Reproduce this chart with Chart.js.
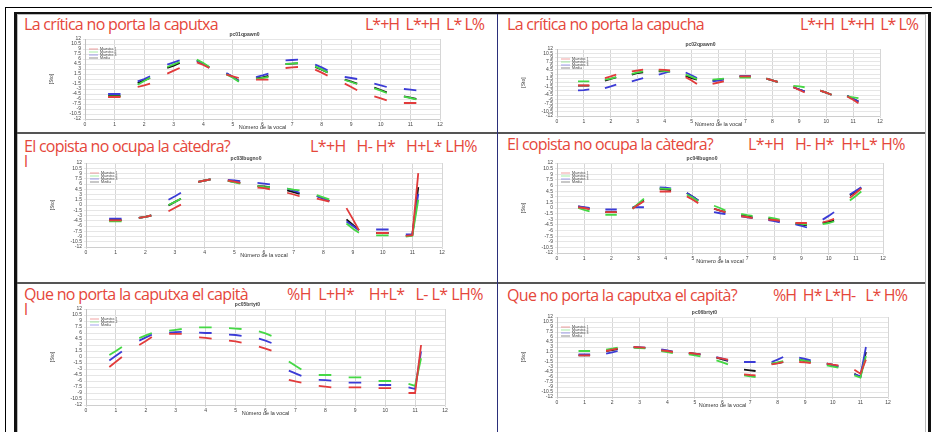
<!DOCTYPE html>
<html>
<head>
<meta charset="utf-8">
<script src="https://cdn.jsdelivr.net/npm/chart.js@4.4.1/dist/chart.umd.min.js"></script>
<style>
  body { margin: 0; width: 932px; height: 432px; position: relative; overflow: hidden; background: #fff; font-family: "Open Sans", "Noto Sans", sans-serif; }
  .ln { position: absolute; }
  .tt { position: absolute; color: #e5473b; font-size: 16px; line-height: 1; white-space: pre; }
  canvas { position: absolute; }
</style>
</head>
<body>

<div class="ln" style="left:5px;top:7px;width:1000px;height:1000px;border-left:1px solid #000;border-top:1px solid #000;"></div>
<div class="ln" style="left:14px;top:12px;width:911px;height:1000px;border-left:3px solid #111;border-top:2px solid #111;border-right:3px solid #111;"></div>
<div class="ln" style="left:17px;top:14px;width:907px;height:1000px;border-left:1px solid #bbb;border-top:1px solid #bbb;border-right:1px solid #bbb;"></div>
<div class="ln" style="left:17px;top:132px;width:908px;height:2px;background:#555;"></div>
<div class="ln" style="left:17px;top:282px;width:908px;height:2px;background:#555;"></div>
<div class="ln" style="left:497px;top:14px;width:1px;height:420px;background:#2b2f7a;"></div>

<div id="holder"></div>

<script>
// values: [start, middle, end] of each vowel's F0 contour, vowels 1..11
const vowels = [1, 2, 3, 4, 5, 6, 7, 8, 9, 10, 11];
const xOffsets = [-0.22, 0, 0.2];

const p1Muestra1 = [[-5.4,-5.4,-5.4],[-2.4,-1.9,-1.4],[1.6,2.5,3.3],[5.0,4.2,3.3],[1.3,0.8,0.3],[-0.2,-0.2,-0.2],[3.3,3.5,3.6],[2.8,1.9,1.0],[-1.4,-2.4,-3.4],[-5.2,-5.8,-6.4],[-7.2,-7.2,-7.2]];
const p1Muestra2 = [[-5.2,-5.2,-5.2],[-1.7,-0.6,0.4],[3.6,4.4,5.1],[5.8,4.8,3.6],[1.4,0.4,-0.8],[0.0,0.3,0.6],[4.5,4.6,4.8],[3.8,2.9,2.0],[-0.3,-0.9,-1.5],[-2.8,-3.5,-4.2],[-5.3,-5.7,-6.1]];
const p1Muestra3 = [[-4.5,-4.5,-4.5],[-0.7,0.0,0.8],[4.3,5.0,5.6],[5.6,4.6,3.4],[1.8,0.6,-0.7],[0.6,1.1,1.6],[5.6,5.7,5.8],[4.3,3.5,2.6],[0.6,0.3,0.0],[-1.4,-1.9,-2.4],[-3.0,-3.2,-3.4]];
const p1Media    = [[-5.1,-5.1,-5.1],[-1.2,-0.4,0.3],[3.3,4.0,4.8],[5.6,4.6,3.5],[1.6,0.6,-0.5],[0.2,0.5,0.9],[4.5,4.6,4.7],[3.6,2.8,2.0],[-0.2,-0.8,-1.4],[-2.6,-3.3,-4.0],[-5.2,-5.6,-6.0]];

const p2Muestra1 = [[-1.0,-1.0,-1.0],[1.6,2.2,2.8],[4.0,4.3,4.6],[4.6,4.5,4.3],[1.9,0.7,-0.5],[-0.5,0.0,0.4],[2.2,2.2,2.2],[1.4,0.8,0.2],[-1.7,-2.7,-3.6],[-2.9,-3.6,-4.4],[-5.0,-6.2,-7.4]];
const p2Muestra2 = [[0.4,0.4,0.4],[1.0,1.4,1.9],[3.1,3.6,4.0],[4.3,4.1,3.9],[2.8,2.0,1.2],[1.0,1.2,1.4],[1.8,1.8,1.8],[1.4,0.8,0.2],[-1.2,-1.4,-1.7],[-2.9,-3.6,-4.4],[-5.0,-5.3,-5.6]];
const p2Muestra3 = [[-2.8,-2.7,-2.5],[-2.0,-1.4,-0.8],[0.4,1.0,1.6],[2.8,3.4,4.0],[3.6,2.6,1.6],[0.4,0.7,1.0],[2.3,2.3,2.3],[1.4,0.8,0.2],[-1.7,-2.5,-3.2],[-2.9,-3.6,-4.4],[-4.8,-5.8,-6.8]];
const p2Media    = [[-1.1,-1.1,-1.1],[0.7,1.3,1.8],[2.8,3.4,3.6],[4.0,4.0,4.0],[2.4,1.6,1.0],[0.7,1.0,1.2],[2.2,2.2,2.2],[1.4,0.8,0.2],[-1.7,-2.5,-3.2],[-2.9,-3.6,-4.4],[-4.8,-5.8,-6.8]];

const p3Muestra1 = [[-4.4,-4.4,-4.4],[-3.7,-3.4,-3.0],[-1.8,-0.8,0.1],[6.6,7.0,7.3],[7.0,6.7,6.3],[5.0,4.8,4.5],[3.5,3.0,2.5],[1.8,1.4,1.0],[-0.9,-4.1,-7.2],[-8.0,-8.0,-8.0],[-8.8,-8.6,9.1]];
const p3Muestra2 = [[-4.7,-4.7,-4.7],[-3.7,-3.4,-3.0],[0.0,0.9,1.8],[6.6,7.0,7.3],[6.9,6.5,6.1],[5.4,5.2,5.1],[4.7,4.4,4.2],[2.8,2.2,1.6],[-5.3,-6.8,-7.9],[-8.7,-8.7,-8.7],[-9.0,-8.8,1.5]];
const p3Muestra3 = [[-3.9,-3.9,-3.9],[-3.7,-3.4,-3.0],[1.5,2.5,3.5],[6.6,7.0,7.3],[7.2,7.0,6.8],[6.3,6.1,5.9],[4.7,4.1,3.5],[2.5,1.8,1.1],[-4.7,-6.0,-7.2],[-7.0,-7.0,-7.0],[-8.4,-8.3,3.2]];
const p3Media    = [[-4.3,-4.3,-4.3],[-3.7,-3.4,-3.0],[-0.1,0.9,1.8],[6.6,7.0,7.3],[6.9,6.6,6.3],[5.4,5.3,5.1],[4.2,3.7,3.2],[2.6,1.9,1.1],[-4.1,-5.7,-7.2],[-8.0,-8.0,-8.0],[-8.8,-8.6,5.1]];

const p4Muestra1 = [[0.2,0.0,-0.3],[-1.1,-1.1,-1.1],[-0.2,0.9,1.8],[4.4,4.4,4.4],[3.1,2.2,1.3],[-0.2,-0.7,-1.1],[-2.2,-2.4,-2.7],[-3.1,-3.2,-3.4],[-4.0,-4.0,-4.0],[-3.8,-3.4,-2.9],[2.7,4.0,5.2]];
const p4Muestra2 = [[0.0,-0.5,-0.9],[-1.8,-1.8,-1.8],[-0.2,1.2,2.5],[5.2,5.1,5.1],[3.6,2.7,1.8],[0.6,0.0,-0.7],[-1.6,-1.9,-2.1],[-2.5,-2.8,-3.1],[-4.0,-4.2,-4.4],[-4.3,-4.0,-3.6],[2.0,3.2,4.4]];
const p4Muestra3 = [[0.4,0.2,0.0],[-0.4,-0.4,-0.4],[0.2,0.2,0.2],[5.5,5.4,5.2],[4.0,3.0,2.0],[-1.1,-1.4,-1.6],[-2.2,-2.5,-2.7],[-3.2,-3.5,-3.8],[-4.4,-4.8,-5.2],[-3.1,-2.1,-1.1],[3.6,4.6,5.5]];
const p4Media    = [[0.4,0.1,-0.2],[-1.1,-1.1,-1.1],[0.0,1.0,2.0],[5.1,5.0,4.8],[4.0,3.0,2.0],[-0.2,-0.7,-1.1],[-2.0,-2.2,-2.5],[-2.8,-3.2,-3.6],[-4.2,-4.4,-4.6],[-4.0,-3.7,-3.4],[3.4,4.4,5.4]];

const p5Muestra1 = [[-2.5,-1.2,0.0],[3.0,4.0,5.0],[5.8,5.8,5.8],[4.9,4.8,4.6],[4.1,3.9,3.6],[2.6,2.1,1.6],[-5.7,-6.1,-6.4],[-7.2,-7.4,-7.6],[-7.6,-7.6,-7.6],[-7.8,-7.8,-7.8],[-9.0,-9.0,3.0]];
const p5Muestra2 = [[0.5,1.5,2.5],[4.7,5.4,6.0],[6.6,6.8,7.0],[7.4,7.4,7.4],[7.2,7.1,7.0],[6.4,5.9,5.3],[-1.1,-2.2,-3.1],[-4.5,-4.5,-4.5],[-5.1,-5.1,-5.1],[-6.0,-6.0,-6.0],[-6.7,-7.2,-0.3]];
const p5Media    = [[-0.9,0.3,1.4],[4.1,4.9,5.6],[6.1,6.2,6.3],[6.1,6.0,6.0],[5.6,5.5,5.3],[4.6,4.1,3.5],[-3.4,-4.1,-4.7],[-5.7,-5.8,-5.9],[-6.4,-6.4,-6.4],[-7.0,-7.0,-7.0],[-7.6,-8.0,1.4]];

const p6Muestra1 = [[0.5,0.5,0.5],[1.8,2.2,2.5],[3.0,2.9,2.8],[2.0,1.8,1.5],[1.2,1.0,0.8],[-0.2,-0.5,-0.8],[-5.2,-5.4,-5.5],[-2.2,-1.9,-1.5],[-1.5,-1.6,-1.8],[-2.0,-2.3,-2.5],[-3.8,-5.0,-0.8]];
const p6Muestra2 = [[1.8,1.8,1.8],[2.2,2.5,2.8],[2.8,2.7,2.6],[1.8,1.5,1.2],[0.8,0.5,0.2],[-1.0,-1.6,-2.2],[-5.5,-5.8,-6.0],[-2.0,-1.6,-1.2],[-0.8,-1.2,-1.5],[-2.5,-2.9,-3.2],[-5.5,-6.2,0.3]];
const p6Muestra3 = [[0.8,0.8,0.8],[1.0,1.4,1.8],[3.0,2.9,2.8],[2.3,2.0,1.6],[1.0,0.9,0.8],[0.0,-0.5,-1.0],[-1.5,-1.5,-1.5],[-1.5,-0.8,0.0],[-0.2,-0.6,-1.0],[-2.0,-2.4,-2.8],[-5.2,-5.8,3.0]];
const p6Media    = [[0.5,0.5,0.5],[1.8,2.1,2.4],[2.9,2.8,2.7],[2.0,1.8,1.5],[1.2,1.0,0.8],[-0.2,-0.7,-1.2],[-3.8,-4.0,-4.2],[-2.0,-1.8,-1.5],[-0.8,-1.2,-1.5],[-2.0,-2.4,-2.8],[-5.0,-6.0,1.5]];

const RED = '#e23b3b', GREEN = '#45d845', BLUE = '#3b3bd6', BLACK = '#111111';

// panels: chart area box in page pixels + heading texts with their x span
const panels = [
  { area: [85, 39, 440, 119], title: 'pc01qpawn0', ty: 30,
    text: 'La crítica no porta la caputxa', tx: [24, 218], tones: 'L*+H  L*+H  L* L%', rx: [365, 484],
    series: [['Muestra 1', p1Muestra1, RED], ['Muestra 2', p1Muestra2, GREEN], ['Muestra 3', p1Muestra3, BLUE], ['Media', p1Media, BLACK]] },
  { area: [557, 49, 880, 116], title: 'pc02qpawn0', ty: 30,
    text: 'La crítica no porta la capucha', tx: [507, 704], tones: 'L*+H  L*+H  L* L%', rx: [800, 918],
    series: [['Muestra 1', p2Muestra1, RED], ['Muestra 2', p2Muestra2, GREEN], ['Muestra 3', p2Muestra3, BLUE], ['Media', p2Media, BLACK]] },
  { area: [86, 163, 442, 247], title: 'pc03lbugno0', ty: 152, extra: 167,
    text: 'El copista no ocupa la càtedra?', tx: [24, 230], tones: 'L*+H   H- H*   H+L* LH%', rx: [310, 477],
    series: [['Muestra 1', p3Muestra1, RED], ['Muestra 2', p3Muestra2, GREEN], ['Muestra 3', p3Muestra3, BLUE], ['Media', p3Media, BLACK]] },
  { area: [557, 163, 883, 253], title: 'pc04lbugno0', ty: 150,
    text: 'El copista no ocupa la càtedra?', tx: [507, 713], tones: 'L*+H   H- H*  H+L* H%', rx: [748, 905],
    series: [['Muestra 1', p4Muestra1, RED], ['Muestra 2', p4Muestra2, GREEN], ['Muestra 3', p4Muestra3, BLUE], ['Media', p4Media, BLACK]] },
  { area: [86, 309, 445, 405], title: 'pc05brtyt0', ty: 300, extra: 315,
    text: 'Que no porta la caputxa el capità', tx: [24, 248], tones: '%H  L+H*    H+L*   L- L* LH%', rx: [287, 483],
    series: [['Muestra 1', p5Muestra1, RED], ['Muestra 2', p5Muestra2, GREEN], ['Media', p5Media, BLUE]] },
  { area: [557, 317, 888, 397], title: 'pc06brtyt0', ty: 301,
    text: 'Que no porta la caputxa el capità?', tx: [507, 737], tones: '%H  H* L*H-   L* H%', rx: [773, 907],
    series: [['Muestra 1', p6Muestra1, RED], ['Muestra 2', p6Muestra2, GREEN], ['Muestra 3', p6Muestra3, BLUE], ['Media', p6Media, BLACK]] }
];

function segPoints(vals) {
  const pts = [];
  vals.forEach(function(v, i) {
    v.forEach(function(y, k) { pts.push({ x: vowels[i] + xOffsets[k], y: y }); });
    pts.push({ x: vowels[i] + 0.4, y: null });
  });
  return pts;
}

// heading text squeezed to the span it takes in the original table
function addText(str, span, baseline) {
  const d = document.createElement('div');
  d.className = 'tt'; d.textContent = str;
  d.style.left = span[0] + 'px'; d.style.top = (baseline - 14) + 'px';
  holder.appendChild(d);
  if (span[1]) {
    const w = d.getBoundingClientRect().width;
    d.style.letterSpacing = ((span[1] - span[0] - w) / str.length) + 'px';
  }
}

// small legend drawn inside the plot, top left
const innerLegend = {
  id: 'innerLegend',
  afterDatasetsDraw: function(chart) {
    const ctx = chart.ctx, a = chart.chartArea;
    ctx.save();
    ctx.font = '3.5px "Open Sans", sans-serif';
    ctx.textBaseline = 'middle';
    chart.data.datasets.forEach(function(ds, i) {
      const y = a.top + 10 + i * 3;
      ctx.strokeStyle = ds.borderColor;
      ctx.globalAlpha = 0.6;
      ctx.lineWidth = 0.8;
      ctx.beginPath(); ctx.moveTo(a.left + 4, y); ctx.lineTo(a.left + 13, y); ctx.stroke();
      ctx.globalAlpha = 1;
      ctx.fillStyle = '#333';
      ctx.fillText(ds.label, a.left + 15, y);
    });
    ctx.restore();
  }
};

const holder = document.getElementById('holder');
const YW = 36, TH = 8, XH = 12, PR = 6;

panels.forEach(function(p) {
  addText(p.text, p.tx, p.ty);
  addText(p.tones, p.rx, p.ty);
  if (p.extra) addText('l', [p.tx[0]], p.extra);

  const a = p.area;
  const w = (a[2] - a[0]) + YW + PR, h = (a[3] - a[1]) + TH + XH;
  const cv = document.createElement('canvas');
  cv.width = w; cv.height = h;
  cv.style.left = (a[0] - YW) + 'px'; cv.style.top = (a[1] - TH) + 'px';
  cv.style.width = w + 'px'; cv.style.height = h + 'px';
  holder.appendChild(cv);

  new Chart(cv, {
    type: 'line',
    data: {
      datasets: p.series.map(function(s) {
        return { label: s[0], data: segPoints(s[1]), borderColor: s[2], borderWidth: 1.8,
                 pointRadius: 0, spanGaps: false, tension: 0 };
      })
    },
    options: {
      responsive: false,
      animation: false,
      layout: { padding: { right: PR } },
      plugins: {
        legend: { display: false },
        tooltip: { enabled: false },
        title: { display: true, text: p.title, color: '#444', font: { size: 5 }, padding: { top: 1, bottom: 1 } }
      },
      scales: {
        x: {
          type: 'linear', min: 0, max: 12,
          ticks: { stepSize: 1, font: { size: 5 }, color: '#444', padding: 1, maxRotation: 0 },
          grid: { color: '#d6d6d6', tickLength: 2 },
          title: { display: true, text: 'Número de la vocal', color: '#333', font: { size: 5.5 }, padding: 0 },
          afterFit: function(s) { s.height = XH; }
        },
        y: {
          min: -12, max: 12,
          ticks: { stepSize: 1.5, autoSkip: false, font: { size: 5 }, color: '#444', padding: 2 },
          grid: { color: '#e6e6e6', tickLength: 2 },
          title: { display: true, text: '[Sto]', color: '#333', font: { size: 5 }, padding: 0 },
          afterFit: function(s) { s.width = YW; }
        }
      }
    },
    plugins: [innerLegend]
  });
});
</script>
</body>
</html>
